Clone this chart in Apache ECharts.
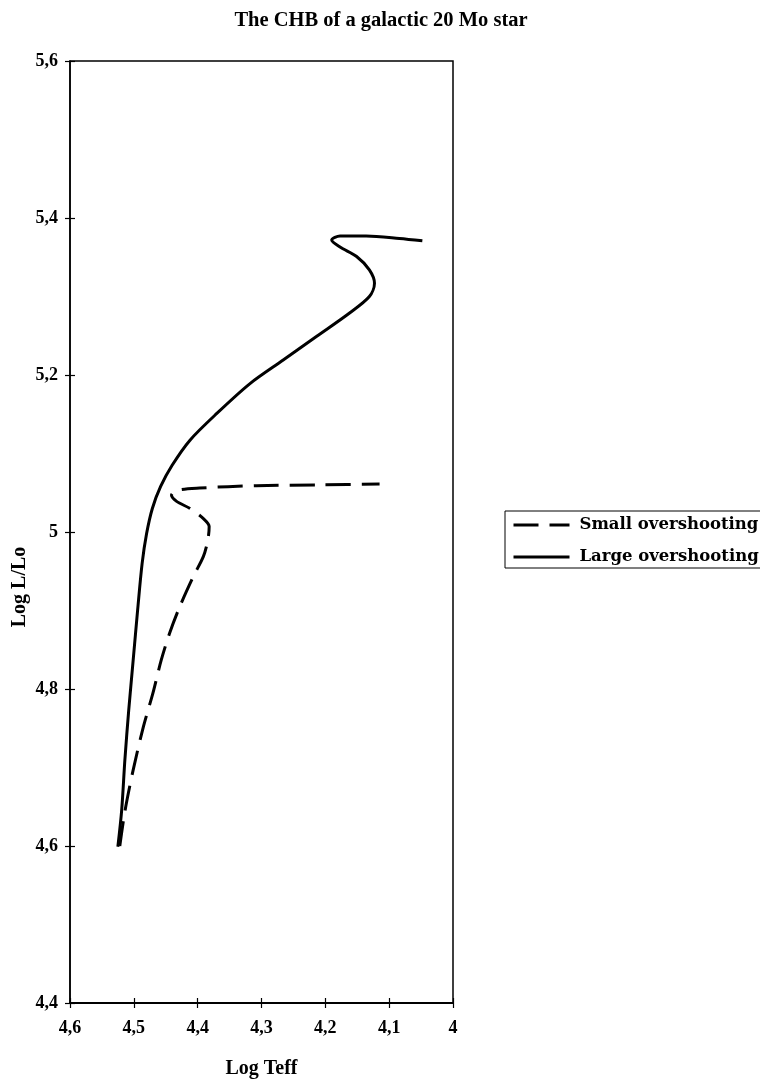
<!DOCTYPE html>
<html>
<head>
<meta charset="utf-8">
<script src="https://cdn.jsdelivr.net/npm/echarts@6/dist/echarts.min.js"></script>
<style>
html,body{margin:0;padding:0;background:#fff;}
#chart{width:760px;height:1085px;}
</style>
</head>
<body>
<div id="chart"></div>
<script>
// ---- data ----
const titleText = 'The CHB of a galactic 20 Mo star';
const xAxisName = 'Log Teff';
const yAxisName = 'Log L/Lo';
const seriesNames = ['Small overshooting', 'Large overshooting'];

const smallTeff = [4.522, 4.514, 4.501, 4.485, 4.470, 4.457, 4.444, 4.428, 4.407, 4.391, 4.384, 4.382, 4.391, 4.412, 4.433, 4.441, 4.433, 4.397, 4.308, 4.204, 4.115];
const smallLum  = [4.600, 4.644, 4.697, 4.752, 4.795, 4.837, 4.871, 4.905, 4.943, 4.969, 4.990, 5.007, 5.017, 5.030, 5.039, 5.047, 5.053, 5.056, 5.059, 5.060, 5.061];

const largeTeff = [4.525, 4.519, 4.514, 4.508, 4.501, 4.494, 4.487, 4.480, 4.471, 4.458, 4.440, 4.412, 4.370, 4.318, 4.266, 4.214, 4.162, 4.131, 4.123, 4.131, 4.151, 4.177, 4.190, 4.177, 4.136, 4.084, 4.048];
const largeLum  = [4.599, 4.646, 4.710, 4.773, 4.837, 4.901, 4.960, 4.998, 5.030, 5.058, 5.085, 5.117, 5.151, 5.189, 5.219, 5.249, 5.279, 5.300, 5.317, 5.334, 5.351, 5.363, 5.372, 5.377, 5.377, 5.374, 5.371];

const xMin = 4.0, xMax = 4.6, xStep = 0.1;
const yMin = 4.4, yMax = 5.6, yStep = 0.2;

// ---- build ----
const pairs = (xs, ys) => xs.map((x, i) => [x, ys[i]]);
const fmt = v => String(Math.round(v * 10) / 10).replace('.', ',');
const SERIF = '"Liberation Serif", "Times New Roman", serif';

const chart = echarts.init(document.getElementById('chart'), null, {renderer: 'canvas'});

function xAx(main) {
  return {
    type: 'value', position: 'bottom', inverse: true,
    min: xMin, max: xMax, interval: xStep,
    name: main ? xAxisName : '', nameLocation: 'middle', nameGap: 56,
    nameTextStyle: {fontFamily: SERIF, fontWeight: 'bold', fontSize: 20, color: '#000'},
    axisLine: {show: main, lineStyle: {color: '#000', width: 2}},
    axisTick: {show: true, inside: !main, length: 5, lineStyle: {color: '#000', width: 1.2}},
    axisLabel: {show: main, formatter: fmt, margin: 16, fontFamily: SERIF, fontWeight: 'bold', fontSize: 18, color: '#000'},
    splitLine: {show: false}
  };
}
function yAx(main) {
  return {
    type: 'value', position: 'left',
    min: yMin, max: yMax, interval: yStep,
    axisLine: {show: main, lineStyle: {color: '#000', width: 1.5}},
    axisTick: {show: true, inside: !main, length: 5, lineStyle: {color: '#000', width: 1.2}},
    axisLabel: {show: main, formatter: fmt, margin: 12, fontFamily: SERIF, fontWeight: 'bold', fontSize: 18, color: '#000'},
    splitLine: {show: false}
  };
}

chart.setOption({
  animation: false,
  backgroundColor: '#fff',
  title: {
    text: titleText, left: 376, top: 5, textAlign: 'center',
    textStyle: {fontFamily: SERIF, fontWeight: 'bold', fontSize: 20.5, color: '#000'}
  },
  grid: {left: 70, right: 307, top: 61, bottom: 82, show: true, borderColor: '#000', borderWidth: 1.5, backgroundColor: 'transparent'},
  xAxis: [xAx(true), xAx(false)],
  yAxis: [yAx(true), yAx(false)],
  legend: {
    orient: 'vertical', left: 505, top: 511,
    borderColor: '#000', borderWidth: 1, borderRadius: 0,
    padding: [4, 30, 1, 7], itemGap: 12,
    itemWidth: 56, itemHeight: 14,
    data: seriesNames,
    itemStyle: {opacity: 0},
    lineStyle: {inherit: true, width: 3},
    textStyle: {fontFamily: '"DejaVu Serif", serif', fontWeight: 'bold', fontSize: 16.5, color: '#000', lineHeight: 20, padding: [0, 0, 0, 5]}
  },
  graphic: [{
    type: 'text', x: 20, y: 587, rotation: Math.PI / 2,
    style: {text: yAxisName, textAlign: 'center', textVerticalAlign: 'middle', font: 'bold 20px "Liberation Serif", serif', fill: '#000'}
  }],
  series: [
    {
      name: seriesNames[0], type: 'line', xAxisIndex: 0, yAxisIndex: 0,
      data: pairs(smallTeff, smallLum), smooth: 0.3,
      symbol: 'none', showSymbol: false,
      lineStyle: {color: '#000', width: 3, type: [25, 11], cap: 'butt'},
      itemStyle: {color: '#000'}
    },
    {
      name: seriesNames[1], type: 'line', xAxisIndex: 0, yAxisIndex: 0,
      data: pairs(largeTeff, largeLum), smooth: 0.3,
      symbol: 'none', showSymbol: false,
      lineStyle: {color: '#000', width: 3, type: 'solid'},
      itemStyle: {color: '#000'}
    }
  ]
});
</script>
</body>
</html>
